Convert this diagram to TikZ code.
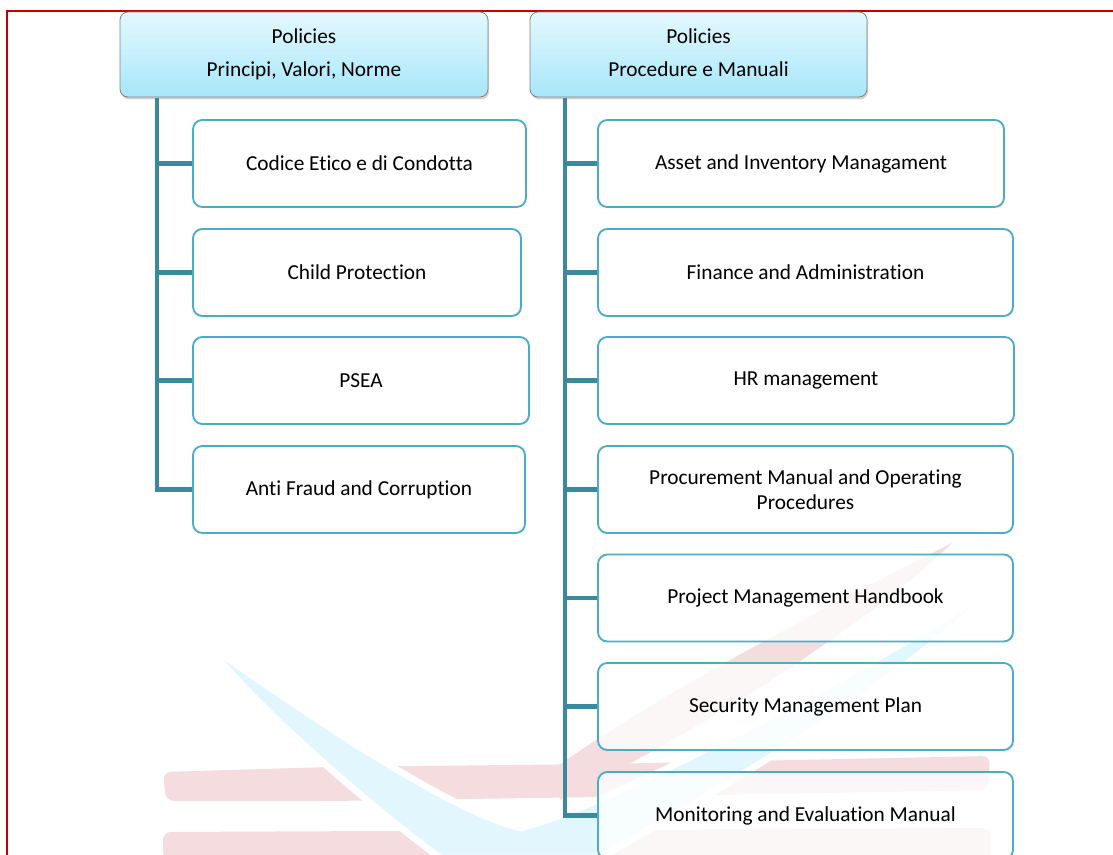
\documentclass[tikz,border=0pt]{standalone}
\usepackage{fontspec}
\setmainfont{Carlito}[Ligatures=NoCommon]
\usetikzlibrary{shadows}
\definecolor{framered}{RGB}{192,0,0}
\definecolor{boxline}{RGB}{75,172,198}
\definecolor{trunkc}{RGB}{58,137,160}
\definecolor{hdrtop}{RGB}{228,248,253}
\definecolor{hdrbot}{RGB}{166,231,250}
\definecolor{hdrline}{RGB}{130,130,130}
\definecolor{wmpink}{RGB}{245,220,222}
\definecolor{wmcyan}{RGB}{226,246,253}
\begin{document}
\begin{tikzpicture}[x=0.75pt,y=-0.75pt,
  font=\fontsize{16}{19.2}\selectfont,
  hdr/.style={rectangle, rounded corners=6pt, draw=hdrline, line width=0.6pt,
    top color=hdrtop, bottom color=hdrbot, minimum height=63.75pt,
    align=center, inner sep=0pt,
    drop shadow={opacity=0.35, shadow xshift=0.8pt, shadow yshift=-1.8pt}},
  leaf/.style={rectangle, rounded corners=7pt, draw=boxline, line width=1.4pt,
    fill=white, fill opacity=0.78, text opacity=1, draw opacity=1,
    minimum height=65.25pt, align=center, inner sep=0pt},
  trunk/.style={draw=trunkc, line width=3.6pt},
  frameline/.style={draw=framered, line width=2pt}]
\useasboundingbox (0,0) rectangle (1113,854);
\clip (0,0) rectangle (1113,854);
% watermark
\fill[wmpink, rounded corners=6pt] (163,772) -- (330,767) -- (600,764) -- (990,756) -- (988,790) -- (600,797) -- (330,801) -- (166,801) -- cycle;
\fill[wmpink, rounded corners=6pt] (163,832) -- (600,830) -- (990,828) -- (990,860) -- (163,860) -- cycle;
\fill[wmpink] (952,543) .. controls (800,620) and (650,700) .. (555,768) -- (560,800) .. controls (680,740) and (850,640) .. (952,543) -- cycle;
\path[fill=wmcyan, draw=white, line width=5pt]
  (204,642) .. controls (330,730) and (450,810) .. (520,828)
  .. controls (600,810) and (850,680) .. (1000,585)
  .. controls (880,700) and (700,800) .. (600,858) -- (440,858)
  .. controls (350,790) and (260,710) .. (204,642) -- cycle;
% frame
\draw[frameline] (7,858) -- (7,11) -- (1115,11);
% headers
\node[hdr, minimum width=276pt] (hl) at (304,54.5) {\strut Policies\\[5.5pt]\strut Principi, Valori, Norme};
\node[hdr, minimum width=252.75pt] (hr) at (698.5,54.5) {\strut Policies\\[5.5pt]\strut Procedure e Manuali};
% left leaves
\node[leaf, minimum width=249.75pt] (l1) at (359.5,163.5) {Codice Etico e di Condotta};
\node[leaf, minimum width=246pt] (l2) at (357,272.5) {Child Protection};
\node[leaf, minimum width=252pt] (l3) at (361,380.5) {PSEA};
\node[leaf, minimum width=249pt] (l4) at (359,489.5) {Anti Fraud and Corruption};
% right leaves
\node[leaf, minimum width=304.5pt] (r1) at (801,163.5) {Asset and Inventory Managament};
\node[leaf, minimum width=311.25pt] (r2) at (805.5,272.5) {Finance and Administration};
\node[leaf, minimum width=312pt] (r3) at (806,380.5) {HR management};
\node[leaf, minimum width=311.25pt] (r4) at (805.5,489.5) {\fontsize{16}{17.25}\selectfont Procurement Manual and Operating\\Procedures};
\node[leaf, minimum width=311.25pt] (r5) at (805.5,598) {Project Management Handbook};
\node[leaf, minimum width=311.25pt] (r6) at (805.5,706.5) {Security Management Plan};
\node[leaf, minimum width=311.25pt] (r7) at (805.5,815.5) {Monitoring and Evaluation Manual};
% connectors
\coordinate (lt) at (157,97.5);
\coordinate (rt) at (565,97.5);
\draw[trunk] (lt) |- (l4.west);
\foreach \n in {l1,l2,l3} \draw[trunk] (lt |- \n.west) -- (\n.west);
\draw[trunk] (rt) |- (r7.west);
\foreach \n in {r1,r2,r3,r4,r5,r6} \draw[trunk] (rt |- \n.west) -- (\n.west);
\end{tikzpicture}
\end{document}
